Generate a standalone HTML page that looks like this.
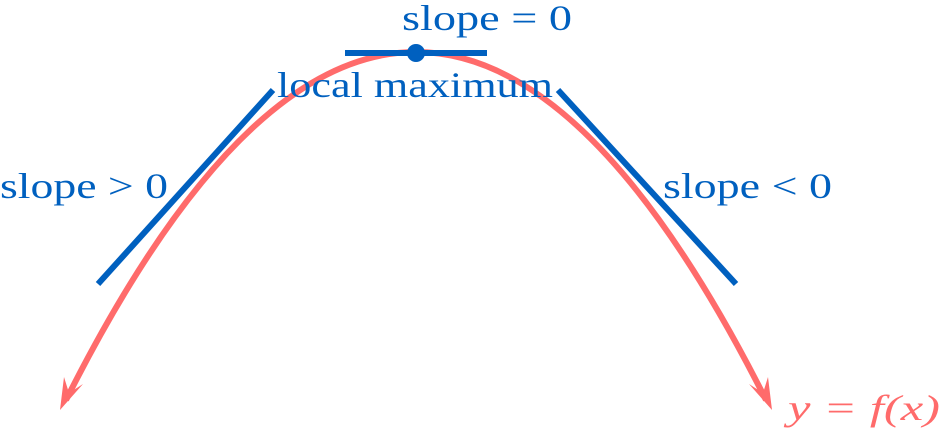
<!DOCTYPE html>
<html><head><style>body{margin:0;background:#fff}svg{display:block}</style></head><body>
<svg width="942" height="430" xmlns="http://www.w3.org/2000/svg" font-family="'Liberation Serif', serif">
<path d="M66,400 Q416,-296 766,400" fill="none" stroke="#ff6b6b" stroke-width="6"/>
<polygon points="772,410 749,384 763,393 768,377" fill="#ff6b6b"/>
<polygon points="60,410 83,384 69,393 64,377" fill="#ff6b6b"/>
<g stroke="#0060bf" stroke-width="6">
<line x1="98" y1="284" x2="273" y2="90"/>
<line x1="558" y1="90" x2="736" y2="284"/>
<line x1="345" y1="53" x2="487" y2="53"/>
</g>
<circle cx="416" cy="53" r="9" fill="#0060bf"/>
<g fill="#0060bf" font-size="36">
<text x="402" y="30" textLength="170" lengthAdjust="spacingAndGlyphs">slope = 0</text>
<text x="277" y="97" textLength="276" lengthAdjust="spacingAndGlyphs">local maximum</text>
<text x="0" y="198" textLength="168" lengthAdjust="spacingAndGlyphs">slope &gt; 0</text>
<text x="663" y="198" textLength="169" lengthAdjust="spacingAndGlyphs">slope &lt; 0</text>
</g>
<text x="788" y="420" fill="#ff6b6b" font-size="36" font-style="italic" textLength="152" lengthAdjust="spacingAndGlyphs">y = f(x)</text>
</svg>
</body></html>
